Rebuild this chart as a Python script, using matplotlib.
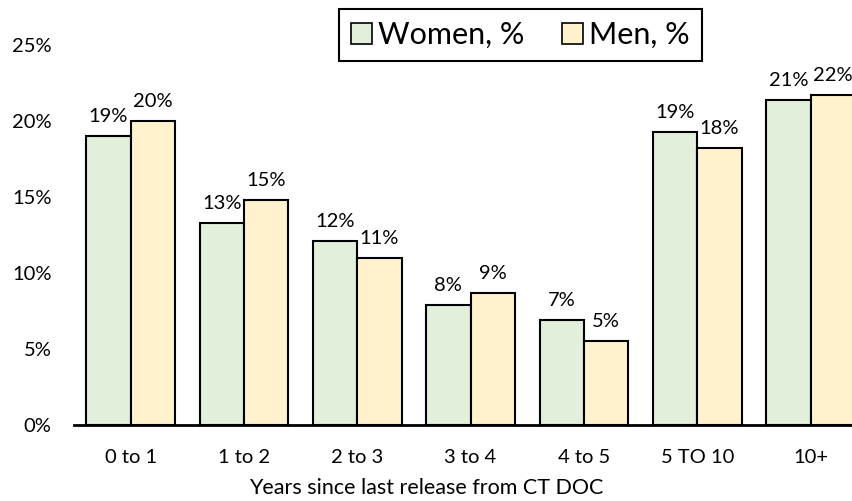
import numpy as np
import matplotlib.pyplot as plt

plt.rcParams['font.family'] = ['Lato', 'DejaVu Sans']

categories = ['0 to 1', '1 to 2', '2 to 3', '3 to 4', '4 to 5', '5 TO 10', '10+']
women = [19.0, 13.3, 12.1, 7.9, 6.9, 19.3, 21.4]
men = [20.0, 14.8, 11.0, 8.7, 5.5, 18.2, 21.7]
women_labels = ['19%', '13%', '12%', '8%', '7%', '19%', '21%']
men_labels = ['20%', '15%', '11%', '9%', '5%', '18%', '22%']

green = '#E2EFDA'
yellow = '#FFF2CC'

fig = plt.figure(figsize=(8.53, 5.01), dpi=100)
ax = fig.add_axes([0.0867, 0.1517, 0.93, 0.7585])

x = np.arange(len(categories))
w = 0.392
b1 = ax.bar(x - w/2, women, w, color=green, edgecolor='black', linewidth=1.5, label='Women, %')
b2 = ax.bar(x + w/2, men, w, color=yellow, edgecolor='black', linewidth=1.5, label='Men, %')

for rect, lab in zip(b1, women_labels):
    ax.annotate(lab, (rect.get_x() + rect.get_width()/2, rect.get_height()),
                xytext=(0, 8), textcoords='offset points', ha='center', va='bottom', fontsize=14.5)
for rect, lab in zip(b2, men_labels):
    ax.annotate(lab, (rect.get_x() + rect.get_width()/2, rect.get_height()),
                xytext=(0, 8), textcoords='offset points', ha='center', va='bottom', fontsize=14.5)

ax.set_xlim(-0.5, len(categories) - 0.5)
ax.set_ylim(0, 25)
ax.set_yticks([0, 5, 10, 15, 20, 25])
ax.set_yticklabels(['0%', '5%', '10%', '15%', '20%', '25%'])
ax.set_xticks(x)
ax.set_xticklabels(categories)
ax.tick_params(axis='y', length=0, pad=16, labelsize=14.5)
ax.tick_params(axis='x', length=0, pad=17, labelsize=14.5)

for s in ['left', 'right', 'top']:
    ax.spines[s].set_visible(False)
ax.spines['bottom'].set_linewidth(2)

fig.text(0.5, 0.005, 'Years since last release from CT DOC', ha='center', va='bottom', fontsize=15.5)

leg = fig.legend(loc='center', bbox_to_anchor=(0.61, 0.93), ncol=2, fontsize=22,
                 frameon=True, fancybox=False, edgecolor='black', framealpha=1,
                 handlelength=0.7, handleheight=0.7, handletextpad=0.2, columnspacing=1.2,
                 borderpad=0.4)
leg.get_frame().set_linewidth(1.5)
for h in leg.legend_handles:
    h.set_linewidth(1.2)

fig.savefig('out.png', dpi=100)
